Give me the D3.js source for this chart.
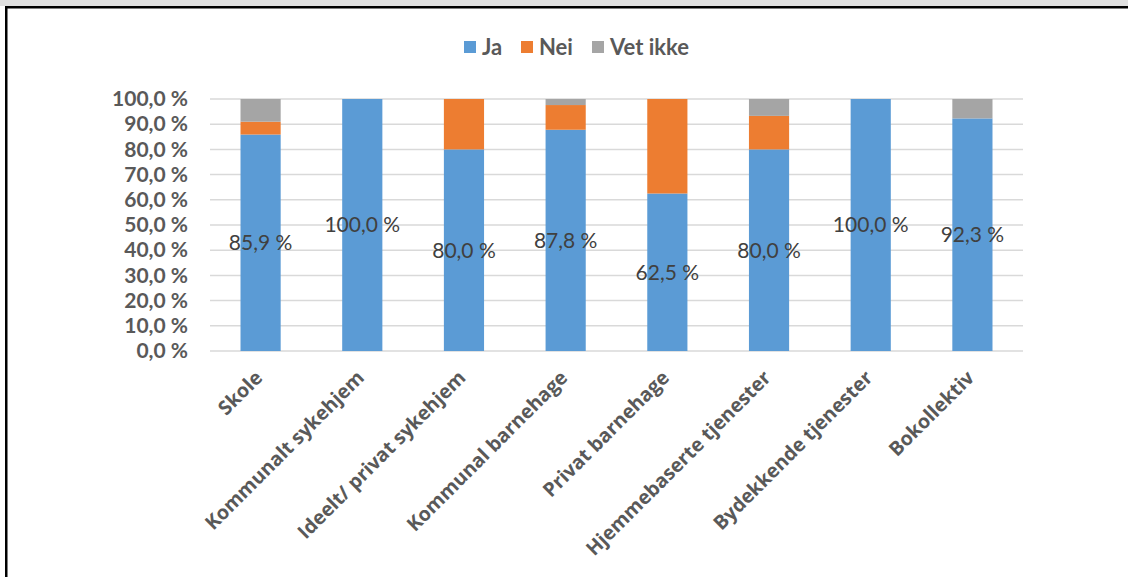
<!DOCTYPE html>
<html>
<head>
<meta charset="utf-8">
<script src="https://cdn.jsdelivr.net/npm/d3@7"></script>
<style>
  html, body { margin: 0; padding: 0; background: #fff; }
  svg { display: block; font-family: Lato, "Open Sans", sans-serif; }
</style>
</head>
<body>
<svg id="chart" width="1128" height="577"></svg>
<script>
// Categories along the x axis
const categories = [
  "Skole",
  "Kommunalt sykehjem",
  "Ideelt/ privat sykehjem",
  "Kommunal barnehage",
  "Privat barnehage",
  "Hjemmebaserte tjenester",
  "Bydekkende tjenester",
  "Bokollektiv"
];
// Share of answers (%) per category
const ja      = [85.9, 100.0, 80.0, 87.8, 62.5, 80.0, 100.0, 92.3];
const nei     = [5.1,  0.0,   20.0, 9.8,  37.5, 13.3, 0.0,   0.0];
const vetIkke = [9.0,  0.0,   0.0,  2.4,  0.0,  6.7,  0.0,   7.7];

const seriesNames = ["Ja", "Nei", "Vet ikke"];
const seriesColors = ["#5b9bd5", "#ed7d31", "#a5a5a5"];
const yTicks = [0, 10, 20, 30, 40, 50, 60, 70, 80, 90, 100];

const svg = d3.select("#chart");
const W = 1128, H = 577;

// frame: grey strip on top, black rule and left border
svg.append("rect").attr("x", 0).attr("y", 0).attr("width", W).attr("height", 6).attr("fill", "#e0e0e0");
svg.append("rect").attr("x", 5).attr("y", 6).attr("width", W - 5).attr("height", 2.5).attr("fill", "#000");
svg.append("rect").attr("x", 5).attr("y", 6).attr("width", 2.5).attr("height", H - 6).attr("fill", "#000");

const margin = { left: 210, right: 105, top: 99, bottom: 226 };
const x = d3.scaleBand().domain(categories).range([margin.left, W - margin.right]).paddingInner(0.605).paddingOuter(0.3);
const y = d3.scaleLinear().domain([0, 100]).range([H - margin.bottom, margin.top]);

// gridlines
svg.append("g")
  .selectAll("line").data(yTicks).join("line")
  .attr("x1", margin.left).attr("x2", W - margin.right)
  .attr("y1", d => y(d)).attr("y2", d => y(d))
  .attr("stroke", "#d9d9d9").attr("stroke-width", 1.5);

// y axis labels
const fmt = d => d.toFixed(1).replace(".", ",") + " %";
const yAxis = d3.axisLeft(y).tickValues(yTicks).tickFormat(fmt).tickSize(0).tickPadding(0);
const gy = svg.append("g").attr("transform", `translate(${margin.left - 22},0)`).call(yAxis);
gy.select(".domain").remove();
gy.selectAll("text")
  .attr("fill", "#595959").attr("font-size", "21px").attr("font-weight", "bold")
  .attr("font-family", "Lato, 'Open Sans', sans-serif");

// stacked bars
const rows = categories.map((c, i) => ({ cat: c, "Ja": ja[i], "Nei": nei[i], "Vet ikke": vetIkke[i] }));
const stack = d3.stack().keys(seriesNames)(rows);
svg.append("g").selectAll("g").data(stack).join("g")
  .attr("fill", (d, i) => seriesColors[i])
  .selectAll("rect").data(d => d).join("rect")
  .attr("x", d => x(d.data.cat))
  .attr("width", x.bandwidth())
  .attr("y", d => y(d[1]))
  .attr("height", d => Math.max(0, y(d[0]) - y(d[1])));

// value labels centred on the "Ja" segment
svg.append("g").selectAll("text").data(categories).join("text")
  .attr("x", d => x(d) + x.bandwidth() / 2)
  .attr("y", (d, i) => y(ja[i] / 2))
  .attr("dy", "0.35em")
  .attr("text-anchor", "middle")
  .attr("fill", "#404040")
  .attr("font-size", "21px")
  .text((d, i) => fmt(ja[i]));

// x axis labels rotated
svg.append("g").selectAll("text").data(categories).join("text")
  .attr("transform", d => `translate(${x(d) + x.bandwidth() / 2 + 3},${H - margin.bottom + 28}) rotate(-45)`)
  .attr("text-anchor", "end")
  .attr("fill", "#595959")
  .attr("font-size", "19.6px")
  .attr("font-weight", "bold")
  .attr("font-family", "'Open Sans', Lato, sans-serif")
  .text(d => d);

// legend
const legendX = [464, 521, 592];
const lg = svg.append("g").selectAll("g").data(seriesNames).join("g")
  .attr("transform", (d, i) => `translate(${legendX[i]},41)`);
lg.append("rect").attr("width", 12).attr("height", 12).attr("fill", (d, i) => seriesColors[i]);
lg.append("text").attr("x", 18).attr("y", 6).attr("dy", "0.36em")
  .attr("fill", "#595959").attr("font-size", "22px").attr("font-weight", "bold")
  .text(d => d);
</script>
</body>
</html>
